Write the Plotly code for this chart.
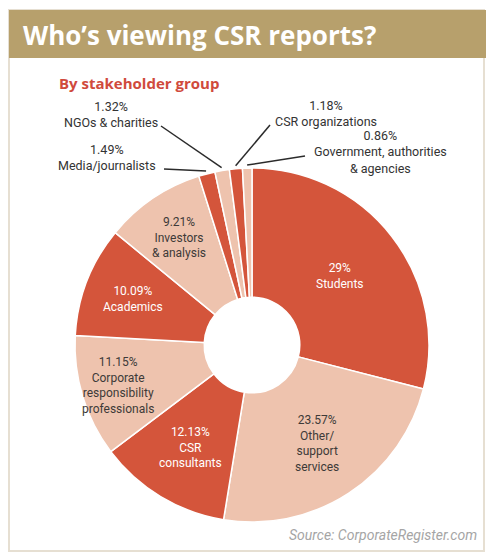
import math
import plotly.graph_objects as go

# ---------------- data ----------------
groups = ["Students", "Other/<br>support<br>services", "CSR<br>consultants",
          "Corporate<br>responsibility<br>professionals", "Academics",
          "Investors<br>& analysis", "Media/journalists", "NGOs & charities",
          "CSR organizations", "Government, authorities<br>& agencies"]
shares = [29, 23.57, 12.13, 11.15, 10.09, 9.21, 1.49, 1.32, 1.18, 0.86]
pct_text = ["29%", "23.57%", "12.13%", "11.15%", "10.09%", "9.21%",
            "1.49%", "1.32%", "1.18%", "0.86%"]

# ---------------- styling ----------------
W, H = 486, 553
DARK = "#D4553B"
LIGHT = "#EEC3AE"
colors = [DARK if i % 2 == 0 else LIGHT for i in range(len(shares))]
CX, CY, R = 252, 345, 177
HOLE = 0.27
FONT = "Roboto"

def px(x):
    return x / W

def py(y):
    return 1 - y / H

fig = go.Figure()
fig.add_trace(go.Pie(
    values=shares, labels=[g.replace("<br>", " ") for g in groups],
    sort=False, direction="clockwise", rotation=0, hole=HOLE,
    marker=dict(colors=colors, line=dict(color="white", width=1.5)),
    textinfo="none", hoverinfo="label+percent", showlegend=False,
    domain=dict(x=[px(CX - R), px(CX + R)], y=[py(CY + R), py(CY - R)]),
))

total = sum(shares)
mid_angles = []
cum = 0
for v in shares:
    mid_angles.append((cum + v / 2) / total * 360)
    cum += v

def polar(angle_deg, r):
    a = math.radians(angle_deg)
    return CX + r * math.sin(a), CY - r * math.cos(a)

# inside labels: radius per label (layout)
inside_r = [112, 118, 120, 140, 128, 130]
annotations = []
for i in range(6):
    x, y = polar(mid_angles[i], inside_r[i])
    col = "white" if colors[i] == DARK else "#3d3a38"
    annotations.append(dict(
        x=px(x), y=py(y), xref="paper", yref="paper", showarrow=False,
        text=pct_text[i] + "<br>" + groups[i], align="center",
        xanchor="center", yanchor="middle",
        font=dict(family=FONT, size=12, color=col)))

# outside labels for the small slices (label box centre, leader-line start)
outside_pos = {6: (107, 157, 164, 169), 7: (111, 115, 161, 126),
               8: (326, 113, 270, 125), 9: (380, 152, 305, 156)}
shapes = []
for i, (tx, ty, lx, ly) in outside_pos.items():
    annotations.append(dict(
        x=px(tx), y=py(ty), xref="paper", yref="paper", showarrow=False,
        text=pct_text[i] + "<br>" + groups[i], align="center",
        xanchor="center", yanchor="middle",
        font=dict(family=FONT, size=12.5, color="#333333")))
    ex, ey = polar(mid_angles[i], R + 3)
    shapes.append(dict(type="line", xref="paper", yref="paper",
                       x0=px(lx), y0=py(ly), x1=px(ex), y1=py(ey),
                       line=dict(color="#2b2b2b", width=1.5)))

# card frame + header
shapes.insert(0, dict(type="rect", xref="paper", yref="paper",
                      x0=px(9), x1=px(484), y0=py(551), y1=py(10),
                      line=dict(color="#E6DFD2", width=2), fillcolor="white",
                      layer="below"))
shapes.insert(1, dict(type="rect", xref="paper", yref="paper",
                      x0=px(9), x1=px(486), y0=py(58), y1=py(10),
                      line=dict(width=0), fillcolor="#B7A06C", layer="below"))

annotations += [
    dict(x=px(21), y=py(35), xref="paper", yref="paper", showarrow=False,
         text="<b>Who\u2019s viewing CSR reports?</b>", xanchor="left",
         yanchor="middle", font=dict(family="Open Sans", size=26, color="white")),
    dict(x=px(57), y=py(83), xref="paper", yref="paper", showarrow=False,
         text="<b>By stakeholder group</b>", xanchor="left", yanchor="middle",
         font=dict(family="Open Sans", size=15, color="#D04A3C")),
    dict(x=px(479), y=py(535), xref="paper", yref="paper", showarrow=False,
         text="<i>Source: CorporateRegister.com</i>", xanchor="right",
         yanchor="middle", font=dict(family=FONT, size=14, color="#a5a5a5")),
]

fig.update_layout(
    width=W, height=H, margin=dict(l=0, r=0, t=0, b=0),
    paper_bgcolor="white", plot_bgcolor="white",
    annotations=annotations, shapes=shapes,
)
fig.write_html("out.html")
